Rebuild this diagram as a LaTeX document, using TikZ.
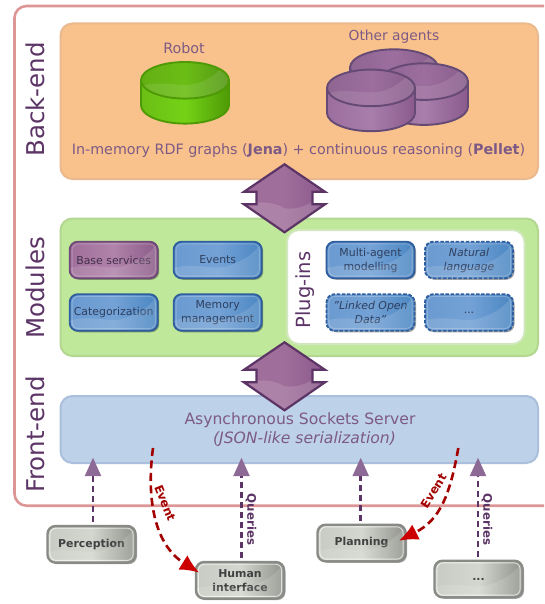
\documentclass[tikz,border=0pt]{standalone}
\usepackage{fontspec}
\setmainfont{DejaVu Sans}
\usetikzlibrary{shadows,calc,arrows.meta}
\definecolor{plum}{HTML}{5C3566}
\definecolor{txtplum}{HTML}{7D5A85}
\definecolor{redd}{HTML}{A40000}
\definecolor{redl}{HTML}{CC0000}
\definecolor{frameC}{HTML}{DD9696}
\definecolor{orangeF}{HTML}{F9C28C}\definecolor{orangeE}{HTML}{EBB98E}
\definecolor{greenF}{HTML}{C0E89A}\definecolor{greenE}{HTML}{B3D790}
\definecolor{blueF}{HTML}{BDD2E9}\definecolor{blueE}{HTML}{A9BFDC}
\definecolor{blueA}{HTML}{6A9AD0}\definecolor{blueB}{HTML}{74A2D6}\definecolor{blueC}{HTML}{4A86C2}\definecolor{blueD}{HTML}{2F5E9E}\definecolor{blueT}{HTML}{2F3F5E}
\definecolor{plumA}{HTML}{A06E9A}\definecolor{plumB}{HTML}{B083AA}\definecolor{plumC}{HTML}{8B5A88}\definecolor{plumD}{HTML}{6F4A78}\definecolor{plumT}{HTML}{43304E}
\definecolor{plumH}{HTML}{8D6A96}
\definecolor{grayA}{HTML}{C8CBC3}\definecolor{grayB}{HTML}{D3D7CF}\definecolor{grayC}{HTML}{8F918A}\definecolor{grayD}{HTML}{888A85}\definecolor{grayT}{HTML}{3F4241}
\definecolor{greenA}{HTML}{6BBE15}\definecolor{greenB}{HTML}{74D216}\definecolor{greenC}{HTML}{4E9A06}\definecolor{greenD}{HTML}{4E9A06}
\definecolor{cylA}{HTML}{9C6E9E}\definecolor{cylB}{HTML}{A87EAB}\definecolor{cylC}{HTML}{8A5A8C}\definecolor{cylD}{HTML}{654A75}
\newcommand{\fsz}[2]{\fontsize{#1}{#2}\selectfont}
\tikzset{
  x=1pt,y=-1pt,
  panel/.style={rounded corners=12,line width=2},
  sidelabel/.style={rotate=90,anchor=base,text=plum,font=\fsz{24.5}{28}},
  maintxt/.style={anchor=base,text=txtplum,font=\fsz{14.3}{17}},
  smallbox/.style={draw,rounded corners=8,line width=1.9,minimum width=88,minimum height=36.5,inner sep=0,align=center,
    drop shadow={shadow xshift=1.5pt,shadow yshift=-1.5pt,fill=black,opacity=.35}},
  bluebox/.style={smallbox,draw=blueD,left color=blueA,right color=blueC,middle color=blueB,text=blueT,font=\fsz{10.9}{14}},
  purplebox/.style={smallbox,draw=plumD,left color=plumA,right color=plumC,middle color=plumB,text=plumT,font=\fsz{10.9}{14}},
  graybox/.style={smallbox,draw=grayD,line width=2.4,left color=grayA,right color=grayC,middle color=grayB,text=grayT,font=\fsz{10.9}{14}\bfseries},
  dashbox/.style={dash pattern=on 3.5pt off 1.6pt},
  query/.style={plum,line width=2.5,dash pattern=on 6.5pt off 3.5pt,-{Triangle[length=18.5pt,width=16pt,color=plumH]}},
  event/.style={redd,line width=2.6,dash pattern=on 8pt off 4.5pt,-{Latex[length=19pt,width=17pt,color=redl]}},
  flowlabel/.style={font=\fsz{11.8}{14}\bfseries},
}
% gloss and light inner rim over a finished box: #1 node name, #2 rim opacity
\newcommand{\boxgloss}[2]{%
  \begin{scope}[shift={(#1.center)}]
    \clip[rounded corners=7] (-43,-17.3) rectangle (43,17.3);
    \fill[white,fill opacity=.13] (-46,20) -- (-46,9) .. controls (-25,1) and (-5,11) .. (10,6) .. controls (28,0) and (36,-6) .. (46,-20) -- (46,20) -- cycle;
    \draw[white,draw opacity=#2,line width=.9,rounded corners=6] (-41.6,-16.1) rectangle (41.6,16.1);
  \end{scope}%
}
% #1 cx, #2 top-ellipse cy, #3 prefix: A,B,C colours + D outline
\newcommand{\dbcyl}[3]{%
  \path[draw=#3D,line width=1.9,left color=#3A,right color=#3C,middle color=#3B]
    ({#1-44},#2) -- ({#1-44},{#2+25})
    .. controls ({#1-44},{#2+35.1}) and ({#1-24.3},{#2+43.3}) .. (#1,{#2+43.3})
    .. controls ({#1+24.3},{#2+43.3}) and ({#1+44},{#2+35.1}) .. ({#1+44},{#2+25})
    -- ({#1+44},#2) -- cycle;
  \begin{scope}
    \path[clip] (#1,#2) ellipse [x radius=44,y radius=18.3];
    \shade[left color=#3A!92!black,right color=#3C!88!gray,middle color=#3A] ({#1-44},{#2-19}) rectangle ({#1+44},{#2+19});
    \fill[white,fill opacity=.10] ({#1-44},{#2+19}) -- ({#1-44},{#2+6}) .. controls ({#1-25},{#2-1}) and ({#1-5},{#2+8}) .. ({#1+12},{#2+3}) .. controls ({#1+26},{#2-1}) and ({#1+32},{#2-8}) .. ({#1+44},{#2-19}) -- ({#1+44},{#2+19}) -- cycle;
  \end{scope}
  \draw[#3D,line width=1.9] (#1,#2) ellipse [x radius=44,y radius=18.3];
}
% double-headed block arrow around centre #1,#2
\newcommand{\blockarrow}[2]{%
  \begin{scope}[shift={(#1,#2)}]
    \path[draw=plum,line width=2.2,line join=miter,left color=plumA,right color=cylC,middle color=plumA,
      path picture={\fill[white,fill opacity=.14] (-45,9) .. controls (-25,1) and (-10,4) .. (0,10) .. controls (15,12) and (25,6) .. (45,-6) -- (45,40) -- (-45,40) -- cycle;}]
      (0,-34) -- (40.5,-6.5) -- (28,-6.5) -- (28,6) -- (40.5,6) -- (0,34) -- (-40.5,6) -- (-28,6) -- (-28,-6.5) -- (-40.5,-6.5) -- cycle;
  \end{scope}%
}
\begin{document}
\begin{tikzpicture}
\useasboundingbox (0,0) rectangle (544,604);
\begin{scope}
  \clip (0,0) rectangle (544,604);
  \draw[panel,draw=frameC,fill=white,line width=2.6] (14.5,6) rectangle (556,505.7);
\end{scope}
% panels
\draw[panel,draw=orangeE,fill=orangeF] (60.5,23.5) rectangle (538,179);
\draw[panel,draw=greenE,fill=greenF] (60.5,218.5) rectangle (538,356);
\draw[panel,draw=blueE,fill=blueF] (60.5,396) rectangle (538,463);
\draw[panel,draw=greenE!60!white,fill=white] (287,230) rectangle (524.5,344);
% side labels
\node[sidelabel] (lback) at (44.5,99.5) {Back-end};
\node[sidelabel] (lmod) at (44.5,288) {Modules};
\node[sidelabel] (lfront) at (44.5,434.5) {Front-end};
\node[sidelabel,font=\fsz{19.5}{23}] (lplug) at (310.7,290) {Plug-ins};
% back-end
\node[maintxt] (trobot) at (184,53.3) {Robot};
\node[maintxt,font=\fsz{13.8}{17}] (tother) at (394,41) {Other agents};
\dbcyl{185}{80.3}{green}
\dbcyl{394}{67.6}{cyl}
\dbcyl{424}{81.6}{cyl}
\dbcyl{371}{87.9}{cyl}
\node[maintxt] (tmem) at (298.5,155) {In-memory RDF graphs (\textbf{Jena}) + continuous reasoning (\textbf{Pellet})};
% block arrows
\blockarrow{284.5}{198.3}
\blockarrow{284.5}{376.3}
% modules
\node[purplebox] (base) at (113.7,260) {Base services};
\node[bluebox] (events) at (217.7,260) {Events};
\node[bluebox] (categ) at (113.7,312.5) {Categorization};
\node[bluebox] (memory) at (217.7,312.5) {Memory\\management};
\node[bluebox] (multi) at (370.5,260) {Multi-agent\\modelling};
\node[bluebox,dashbox] (natural) at (469,260) {\itshape Natural\\\itshape language};
\node[bluebox,dashbox] (linked) at (370.5,312.5) {\itshape "Linked Open\\\itshape Data"};
\node[bluebox,dashbox] (plugmore) at (469,312.5) {...};
\foreach \n in {base,events,categ,memory,multi,natural,linked,plugmore} {\boxgloss{\n}{.22}}
% front-end
\node[maintxt,font=\fsz{15.6}{19}] (tsock) at (300,424) {Asynchronous Sockets Server};
\node[maintxt,font=\fsz{15.6}{19}\itshape] (tjson) at (304.5,443) {(JSON-like serialization)};
% external components
\node[graybox] (perception) at (91.5,544.3) {Perception};
\node[graybox] (human) at (240,580.3) {Human\\interface};
\node[graybox] (planning) at (361.5,543) {Planning};
\node[graybox] (fmore) at (478.5,579) {...};
\foreach \n in {perception,human,planning,fmore} {\boxgloss{\n}{.65}}
% connectors
\coordinate (qp) at (93,457.7);
\coordinate (qh) at (241.5,457.7);
\coordinate (qn) at (360.7,457.7);
\coordinate (qm) at (478,457.7);
\draw[query] (qp |- perception.north) ++(0,-2.5) -- (qp);
\draw[query] (qh |- human.north) ++(0,-2.5) -- (qh);
\draw[query] (qn |- planning.north) ++(0,-2.5) -- (qn);
\draw[query] (qm |- fmore.north) ++(0,-2.5) -- (qm);
\coordinate (e1) at (153,448);
\coordinate (e2) at (458.3,448);
\draw[event] (e1) .. controls (146,500) and (155,545) .. ($(human.north west)+(4.3,11.7)$);
\draw[event] (e2) .. controls (450,495) and (440,520) .. ($(planning.east)+(-7.7,-2.3)$);
\node[flowlabel,text=redd,rotate=-68] (levent1) at (165,503) {Event};
\node[flowlabel,text=redd,rotate=58] (levent2) at (433.5,491) {Event};
\node[flowlabel,text=plum,rotate=-90] (lq1) at (251,519.5) {Queries};
\node[flowlabel,text=plum,rotate=-90] (lq2) at (487,519.5) {Queries};
\end{tikzpicture}
\end{document}
